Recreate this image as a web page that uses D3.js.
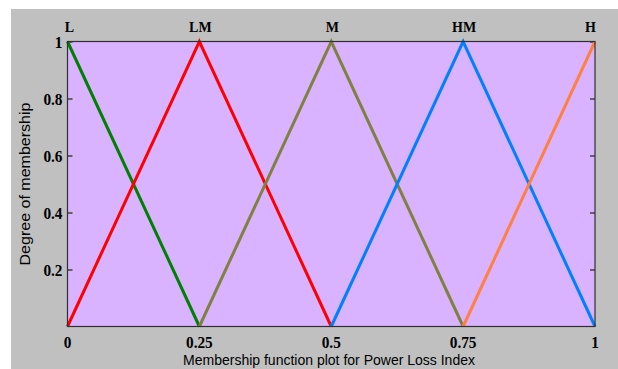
<!DOCTYPE html>
<html><head><meta charset="utf-8">
<script src="https://cdn.jsdelivr.net/npm/d3@7"></script>
<style>body{margin:0;background:#fff}svg{display:block}</style>
</head><body>
<svg id="c" width="618" height="369"></svg>
<script>
const mfNames = ["L","LM","M","HM","H"];
const mfColors = ["#008000","#ff0000","#808040","#0080ff","#ff8040"];
const mfX = [[0,0.25],[0,0.25,0.5],[0.25,0.5,0.75],[0.5,0.75,1],[0.75,1]];
const mfY = [[1,0],[0,1,0],[0,1,0],[0,1,0],[0,1]];
const mfPeaks = [0,0.25,0.5,0.75,1];
const xTicks = [0,0.25,0.5,0.75,1];
const xTickLabels = ["0","0.25","0.5","0.75","1"];
const yTicks = [0.2,0.4,0.6,0.8,1];
const yTickLabels = ["0.2","0.4","0.6","0.8","1"];

const svg = d3.select("#c");
svg.append("rect").attr("x",11).attr("y",9).attr("width",607).attr("height",360).attr("fill","#c0c0c0");
const L=67.5,R=595,T=41.5,B=326.5;
const x=d3.scaleLinear().domain([0,1]).range([L,R]);
const y=d3.scaleLinear().domain([0,1]).range([B,T]);
svg.append("rect").attr("x",L).attr("y",T).attr("width",R-L).attr("height",B-T).attr("fill","#d9b3ff");

const yl=svg.append("g").attr("transform",`translate(${L},0)`).call(d3.axisRight(y).tickValues(yTicks).tickSize(5).tickFormat(""));
const yr=svg.append("g").attr("transform",`translate(${R},0)`).call(d3.axisLeft(y).tickValues(yTicks).tickSize(5).tickFormat(""));
[yl,yr].forEach(g=>{g.select(".domain").remove();g.selectAll("line").attr("stroke","#404040").attr("stroke-width",1.5);});

const line=d3.line().x(d=>x(d[0])).y(d=>y(d[1]));
mfNames.forEach((n,i)=>{
  const pts=mfX[i].map((v,j)=>[v,mfY[i][j]]);
  svg.append("path").attr("d",line(pts)).attr("fill","none").attr("stroke",mfColors[i]).attr("stroke-width",3).attr("stroke-linejoin","miter");
});

svg.append("rect").attr("x",L).attr("y",T).attr("width",R-L).attr("height",B-T).attr("fill","none").attr("stroke","#303030").attr("stroke-width",1.2);

const serif="'Liberation Serif','Times New Roman',serif";
function squeeze(sel,f){sel.each(function(){const w=this.getComputedTextLength();d3.select(this).attr("textLength",w*f).attr("lengthAdjust","spacingAndGlyphs");});}
svg.append("g").selectAll("text").data(xTicks).join("text")
  .attr("x",d=>x(d)).attr("y",347.5).attr("text-anchor","middle")
  .attr("font-family",serif).attr("font-weight","bold").attr("font-size",17)
  .text((d,i)=>xTickLabels[i]).call(squeeze,0.9);
svg.append("g").selectAll("text").data(yTicks).join("text")
  .attr("x",62.5).attr("y",d=>y(d)+6).attr("text-anchor","end")
  .attr("font-family",serif).attr("font-weight","bold").attr("font-size",17)
  .text((d,i)=>yTickLabels[i]).call(squeeze,0.9);
svg.append("g").selectAll("text").data(mfNames).join("text")
  .attr("x",(d,i)=>i===mfNames.length-1?x(mfPeaks[i])+1:(i===0?x(mfPeaks[i])+2:x(mfPeaks[i])+1))
  .attr("y",32).attr("text-anchor",(d,i)=>i===mfNames.length-1?"end":"middle")
  .attr("font-family",serif).attr("font-weight","bold").attr("font-size",14)
  .text(d=>d);

const sans="'Liberation Sans',Arial,sans-serif";
svg.append("text").attr("x",329).attr("y",364.5).attr("text-anchor","middle")
  .attr("font-family",sans).attr("font-size",14).attr("fill","#000")
  .attr("textLength",292).attr("lengthAdjust","spacingAndGlyphs")
  .text("Membership function plot for Power Loss Index");
svg.append("text").attr("transform","translate(30,184) rotate(-90)").attr("text-anchor","middle")
  .attr("font-family",sans).attr("font-size",14).attr("fill","#000")
  .attr("textLength",163).attr("lengthAdjust","spacingAndGlyphs")
  .text("Degree of membership");
</script>
</body></html>
